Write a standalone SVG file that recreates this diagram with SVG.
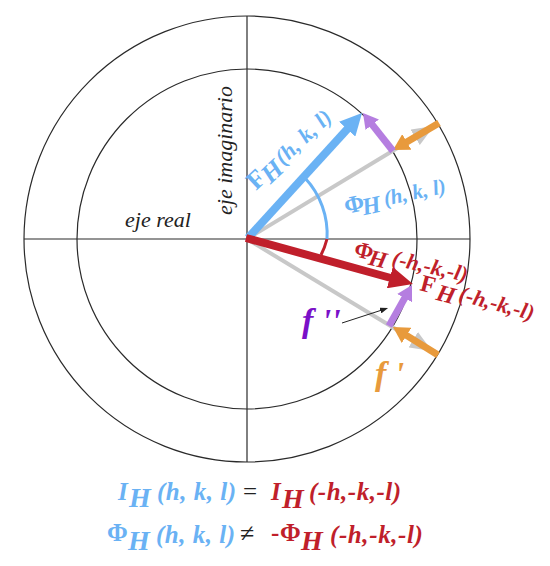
<svg xmlns="http://www.w3.org/2000/svg" width="550" height="566" viewBox="0 0 550 566">
<defs>
<style>
.ln{fill:none;stroke:#2a2a2a;stroke-width:1.2}
.t{font-family:"Liberation Serif","Times New Roman",serif;font-weight:bold;font-style:italic}
.r{font-style:normal}
.blue{fill:#6ab2f4}
.red{fill:#c01f2b}
.blk{fill:#222}
.ax{font-family:"Liberation Serif","Times New Roman",serif;font-style:italic;font-size:22px;fill:#222}
</style>
<marker id="hb" markerUnits="userSpaceOnUse" markerWidth="22" markerHeight="22" refX="3" refY="11" orient="auto"><path d="M0,0 L22,11 L0,22 z" fill="#6ab2f4"/></marker>
<marker id="hr" markerUnits="userSpaceOnUse" markerWidth="24" markerHeight="22" refX="3" refY="11" orient="auto"><path d="M0,0 L24,11 L0,22 z" fill="#c01f2b"/></marker>
<marker id="hg" markerUnits="userSpaceOnUse" markerWidth="22" markerHeight="18" refX="3" refY="9" orient="auto"><path d="M0,0 L22,9 L0,18 z" fill="#c8c8c8"/></marker>
<marker id="ho" markerUnits="userSpaceOnUse" markerWidth="16" markerHeight="18" refX="3" refY="9" orient="auto"><path d="M0,0 L16,9 L0,18 z" fill="#e89a3c"/></marker>
<marker id="hp" markerUnits="userSpaceOnUse" markerWidth="15" markerHeight="17" refX="3" refY="8.5" orient="auto"><path d="M0,0 L15,8.5 L0,17 z" fill="#b57ee0"/></marker>
<marker id="hk" markerUnits="userSpaceOnUse" markerWidth="8" markerHeight="6" refX="1" refY="3" orient="auto"><path d="M0,0 L8,3 L0,6 z" fill="#222"/></marker>
</defs>
<rect width="550" height="566" fill="#fff"/>

<g id="grid">
<circle class="ln" cx="247" cy="239" r="223"/>
<circle class="ln" cx="247" cy="239" r="170"/>
<line class="ln" x1="24" y1="239" x2="470" y2="239"/>
<line class="ln" x1="247" y1="16" x2="247" y2="462"/>
</g>

<g id="connectors">
<line x1="247" y1="239" x2="417.7" y2="135.8" stroke="#c8c8c8" stroke-width="4" marker-end="url(#hg)"/>
<line x1="247" y1="239" x2="415.8" y2="341.2" stroke="#c8c8c8" stroke-width="4" marker-end="url(#hg)"/>
<path d="M305,178 A82,82 0 0 1 327,239" fill="none" stroke="#6ab2f4" stroke-width="3"/>
<path d="M327,239 A78,78 0 0 1 321,255" fill="none" stroke="#c01f2b" stroke-width="3"/>
<line x1="248" y1="238" x2="349.2" y2="127" stroke="#6ab2f4" stroke-width="8" marker-end="url(#hb)"/>
<line x1="246" y1="238" x2="392.7" y2="278.5" stroke="#c01f2b" stroke-width="8" marker-end="url(#hr)"/>
<line x1="439" y1="123" x2="404.2" y2="143.4" stroke="#e89a3c" stroke-width="7" marker-end="url(#ho)"/>
<line x1="438" y1="355" x2="404" y2="333.9" stroke="#e89a3c" stroke-width="7" marker-end="url(#ho)"/>
<line x1="393" y1="151" x2="370.4" y2="122.4" stroke="#b57ee0" stroke-width="7" marker-end="url(#hp)"/>
<line x1="389" y1="326" x2="406.1" y2="295.5" stroke="#b57ee0" stroke-width="7" marker-end="url(#hp)"/>
<line x1="342" y1="323" x2="381.4" y2="310.2" stroke="#222" stroke-width="1" marker-end="url(#hk)"/>
</g>

<g id="axis-labels">
<text class="ax" x="125" y="227">eje real</text>
<text class="ax" transform="translate(232,215) rotate(-90)" x="0" y="0">eje imaginario</text>
</g>

<g id="label-F-hkl" transform="translate(256,191) rotate(-43)">
<text class="t blue" font-size="26"><tspan class="r" x="0" y="0">F</tspan><tspan x="15" y="5">H</tspan><tspan x="37" y="0" font-size="22" letter-spacing="0.3">(h, k, l)</tspan></text>
</g>
<g id="label-Phi-hkl" transform="translate(346,214) rotate(-12)">
<text class="t blue" font-size="24"><tspan class="r" x="0" y="0">Φ</tspan><tspan x="17" y="5">H</tspan><tspan x="40" y="0" font-size="21">(h, k, l)</tspan></text>
</g>
<g id="label-Phi-mhkl" transform="translate(353,256) rotate(13)">
<text class="t red" font-size="23"><tspan class="r" x="0" y="0">Φ</tspan><tspan x="16" y="5">H</tspan><tspan x="39" y="0" font-size="22">(-h,-k,-l)</tspan></text>
</g>
<g id="label-F-mhkl" transform="translate(419,290) rotate(15)">
<text class="t red" font-size="24"><tspan class="r" x="0" y="0">F</tspan><tspan x="18" y="5">H</tspan><tspan x="40" y="0" font-size="22">(-h,-k,-l)</tspan></text>
</g>
<g id="label-f2">
<text class="t" x="302" y="332" font-size="34" fill="#7a10c8">f ''</text>
</g>
<g id="label-f1">
<text class="t" x="375" y="385" font-size="34" fill="#e89a3c">f '</text>
</g>

<g id="equation-1">
<text class="t blue" font-size="25"><tspan x="118" y="500">I</tspan><tspan x="129" y="507" font-size="28">H</tspan><tspan x="157" y="500" letter-spacing="0.5">(h, k, l)</tspan></text>
<text class="blk" x="243" y="500" font-family="Liberation Serif, serif" font-size="25">=</text>
<text class="t red" font-size="25"><tspan x="271" y="500">I</tspan><tspan x="282" y="508" font-size="28">H</tspan><tspan x="309" y="500" letter-spacing="0.5">(-h,-k,-l)</tspan></text>
</g>
<g id="equation-2">
<text class="t blue" font-size="25"><tspan class="r" x="107" y="541">Φ</tspan><tspan x="128" y="550" font-size="28">H</tspan><tspan x="156" y="543" letter-spacing="0.5">(h, k, l)</tspan></text>
<text class="blk" x="240" y="542" font-family="Liberation Serif, serif" font-size="26">≠</text>
<text class="t red" font-size="25"><tspan class="r" x="271" y="541">-</tspan><tspan class="r" x="280" y="541">Φ</tspan><tspan x="301" y="550" font-size="28">H</tspan><tspan x="330" y="543" letter-spacing="0.6">(-h,-k,-l)</tspan></text>
</g>
</svg>
